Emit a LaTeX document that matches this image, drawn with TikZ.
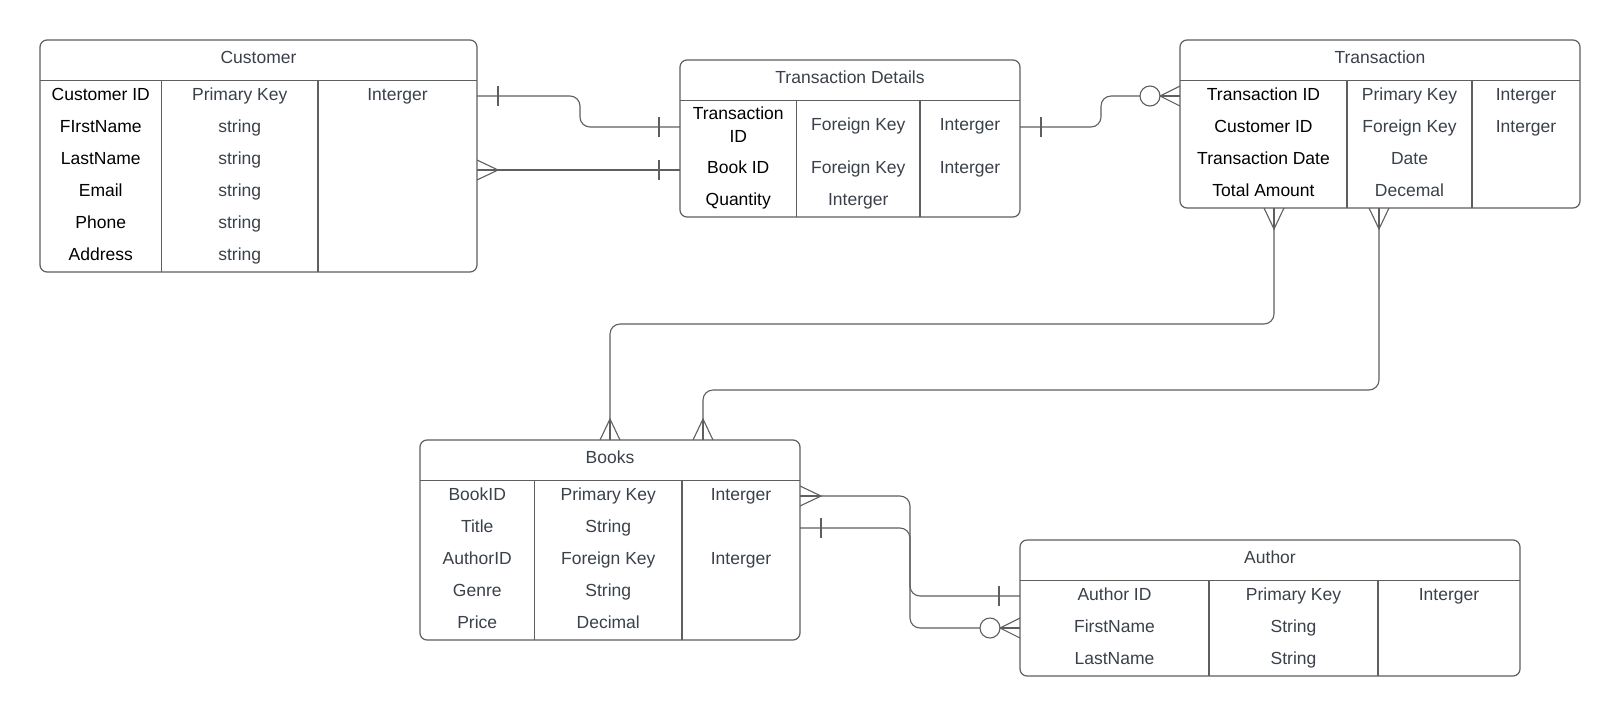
\documentclass[tikz,border=0pt]{standalone}
\usepackage{fontspec}
\setmainfont{Liberation Sans}
\usetikzlibrary{calc}
\definecolor{ln}{HTML}{5F5F5F}
\definecolor{tx}{HTML}{3A414A}
\begin{document}
\begin{tikzpicture}[x=1pt,y=-1pt,
  tbl/.style={draw=ln, line width=1.2pt, rounded corners=7pt, inner sep=0pt, outer sep=0pt, anchor=north west},
  tblline/.style={draw=ln, line width=1.1pt},
  txt/.style={text=tx, font=\fontsize{17.5}{21}\selectfont, inner sep=0pt, anchor=base},
  keytxt/.style={txt, text=black},
  conn/.style={draw=ln, line width=1.1pt, rounded corners=10pt},
  endline/.style={draw=ln, line width=1.1pt},
  crowfoot/.pic={\draw[endline] (0,-10) -- (21,0) -- (0,10); \draw[endline] (0,0) -- (21,0);},
  onebar/.pic={\draw[endline] (21,-10) -- (21,10);},
  zeromany/.pic={\draw[endline] (0,-10) -- (20,0) -- (0,10); \draw[endline] (0,0) -- (20,0); \draw[endline] (30,0) circle (10);}
]
\useasboundingbox (0,0) rectangle (1620,716);
\fill[white] (0,0) rectangle (1620,716);

% ---------- Customer ----------
\node[tbl, minimum width=437pt, minimum height=232pt] (cust) at (40,40) {};
\draw[tblline] (cust.west |- 0,80.5) -- (cust.east |- 0,80.5);
\draw[tblline] (161.5,80.5) -- (161.5,0 |- cust.south);
\draw[tblline] (318,80.5) -- (318,0 |- cust.south);
\node[txt] (custT) at (258.5,63.2) {Customer};
\node[keytxt] (cu11) at (100.75,100.2) {Customer ID};
\node[txt] (cu12) at (239.75,100.2) {Primary Key};
\node[txt] (cu13) at (397.5,100.2) {Interger};
\node[keytxt] (cu21) at (100.75,132.2) {FIrstName};
\node[txt] (cu22) at (239.75,132.2) {string};
\node[keytxt] (cu31) at (100.75,164.2) {LastName};
\node[txt] (cu32) at (239.75,164.2) {string};
\node[keytxt] (cu41) at (100.75,196.2) {Email};
\node[txt] (cu42) at (239.75,196.2) {string};
\node[keytxt] (cu51) at (100.75,228.2) {Phone};
\node[txt] (cu52) at (239.75,228.2) {string};
\node[keytxt] (cu61) at (100.75,260.2) {Address};
\node[txt] (cu62) at (239.75,260.2) {string};

% ---------- Transaction Details ----------
\node[tbl, minimum width=340pt, minimum height=157pt] (td) at (680,60) {};
\draw[tblline] (td.west |- 0,100.5) -- (td.east |- 0,100.5);
\draw[tblline] (796.5,100.5) -- (796.5,0 |- td.south);
\draw[tblline] (920,100.5) -- (920,0 |- td.south);
\node[txt] (tdT) at (850,83.2) {Transaction Details};
\node[keytxt] (td11a) at (738.25,119.5) {Transaction};
\node[keytxt] (td11b) at (738.25,142.2) {ID};
\node[txt] (td12) at (858.25,130.9) {Foreign Key};
\node[txt] (td13) at (970,130.9) {Interger};
\node[keytxt] (td21) at (738.25,173.2) {Book ID};
\node[txt] (td22) at (858.25,173.2) {Foreign Key};
\node[txt] (td23) at (970,173.2) {Interger};
\node[keytxt] (td31) at (738.25,205.2) {Quantity};
\node[txt] (td32) at (858.25,205.2) {Interger};

% ---------- Transaction ----------
\node[tbl, minimum width=400pt, minimum height=168pt] (trans) at (1180,40) {};
\draw[tblline] (trans.west |- 0,80.5) -- (trans.east |- 0,80.5);
\draw[tblline] (1347,80.5) -- (1347,0 |- trans.south);
\draw[tblline] (1472,80.5) -- (1472,0 |- trans.south);
\node[txt] (trT) at (1380,63.2) {Transaction};
\node[keytxt] (tr11) at (1263.5,100.2) {Transaction ID};
\node[txt] (tr12) at (1409.5,100.2) {Primary Key};
\node[txt] (tr13) at (1526,100.2) {Interger};
\node[keytxt] (tr21) at (1263.5,132.2) {Customer ID};
\node[txt] (tr22) at (1409.5,132.2) {Foreign Key};
\node[txt] (tr23) at (1526,132.2) {Interger};
\node[keytxt] (tr31) at (1263.5,164.2) {Transaction Date};
\node[txt] (tr32) at (1409.5,164.2) {Date};
\node[keytxt] (tr41) at (1263.5,196.2) {Total Amount};
\node[txt] (tr42) at (1409.5,196.2) {Decemal};

% ---------- Books ----------
\node[tbl, minimum width=380pt, minimum height=200pt] (books) at (420,440) {};
\draw[tblline] (books.west |- 0,480.5) -- (books.east |- 0,480.5);
\draw[tblline] (534.5,480.5) -- (534.5,0 |- books.south);
\draw[tblline] (682,480.5) -- (682,0 |- books.south);
\node[txt] (bkT) at (610,463.2) {Books};
\node[txt] (bk11) at (477.25,500.2) {BookID};
\node[txt] (bk12) at (608.25,500.2) {Primary Key};
\node[txt] (bk13) at (741,500.2) {Interger};
\node[txt] (bk21) at (477.25,532.2) {Title};
\node[txt] (bk22) at (608.25,532.2) {String};
\node[txt] (bk31) at (477.25,564.2) {AuthorID};
\node[txt] (bk32) at (608.25,564.2) {Foreign Key};
\node[txt] (bk33) at (741,564.2) {Interger};
\node[txt] (bk41) at (477.25,596.2) {Genre};
\node[txt] (bk42) at (608.25,596.2) {String};
\node[txt] (bk51) at (477.25,628.2) {Price};
\node[txt] (bk52) at (608.25,628.2) {Decimal};

% ---------- Author ----------
\node[tbl, minimum width=500pt, minimum height=136pt] (author) at (1020,540) {};
\draw[tblline] (author.west |- 0,580.5) -- (author.east |- 0,580.5);
\draw[tblline] (1209,580.5) -- (1209,0 |- author.south);
\draw[tblline] (1378,580.5) -- (1378,0 |- author.south);
\node[txt] (auT) at (1270,563.2) {Author};
\node[txt] (au11) at (1114.5,600.2) {Author ID};
\node[txt] (au12) at (1293.5,600.2) {Primary Key};
\node[txt] (au13) at (1449,600.2) {Interger};
\node[txt] (au21) at (1114.5,632.2) {FirstName};
\node[txt] (au22) at (1293.5,632.2) {String};
\node[txt] (au31) at (1114.5,664.2) {LastName};
\node[txt] (au32) at (1293.5,664.2) {String};

% ---------- Connectors ----------
% Customer -- Transaction Details (upper)
\coordinate (a1) at (cust.east |- 0,96);
\coordinate (a2) at (td.west |- 0,127);
\draw[conn] (a1) -- (580,96) -- (580,127) -- (a2);
\pic at (a1) {onebar};
\pic[rotate=180] at (a2) {onebar};

% Customer -- Transaction Details (lower)
\coordinate (b1) at (cust.east |- 0,170);
\coordinate (b2) at (td.west |- 0,170);
\draw[conn] (b1) -- (b2);
\pic at (b1) {crowfoot};
\pic[rotate=180] at (b2) {onebar};

% Transaction Details -- Transaction
\coordinate (c1) at (td.east |- 0,127);
\coordinate (c2) at (trans.west |- 0,96);
\draw[conn] (c1) -- (1101,127) -- (1101,96) -- ($(c2)+(-40,0)$);
\pic at (c1) {onebar};
\pic[rotate=180] at (c2) {zeromany};

% Transaction -- Books (1)
\coordinate (d1) at (1274,0 |- trans.south);
\coordinate (d2) at (610,0 |- books.north);
\draw[conn] (d1) -- (1274,324) -- (610,324) -- (d2);
\pic[rotate=-90] at (d1) {crowfoot};
\pic[rotate=90] at (d2) {crowfoot};

% Transaction -- Books (2)
\coordinate (e1) at (1379,0 |- trans.south);
\coordinate (e2) at (703,0 |- books.north);
\draw[conn] (e1) -- (1379,390) -- (703,390) -- (e2);
\pic[rotate=-90] at (e1) {crowfoot};
\pic[rotate=90] at (e2) {crowfoot};

% Books -- Author (zero or many)
\coordinate (f1) at (books.east |- 0,496);
\coordinate (f2) at (author.west |- 0,628);
\draw[conn] (f1) -- (910,496) -- (910,628) -- ($(f2)+(-40,0)$);
\pic at (f1) {crowfoot};
\pic[rotate=180] at (f2) {zeromany};

% Books -- Author (one)
\coordinate (g1) at (books.east |- 0,528);
\coordinate (g2) at (author.west |- 0,596);
\draw[conn] (g1) -- (910,528) -- (910,596) -- (g2);
\pic at (g1) {onebar};
\pic[rotate=180] at (g2) {onebar};
\end{tikzpicture}
\end{document}
